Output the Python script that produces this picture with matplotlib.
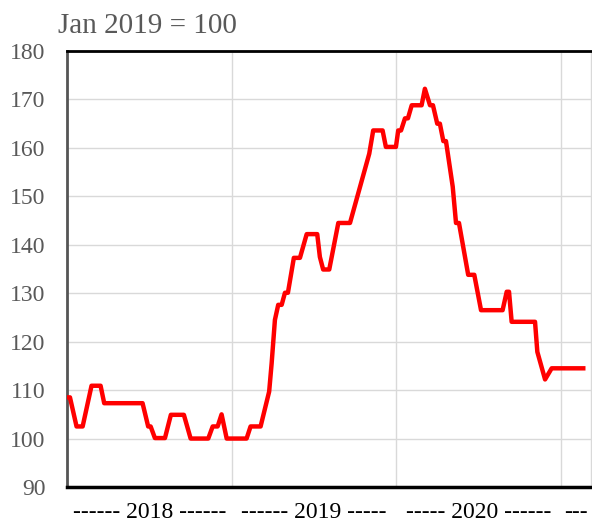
import matplotlib
matplotlib.use("Agg")
import matplotlib.pyplot as plt

# Knots of the index line (decimal year, index value, Jan 2019 = 100)
years = [2018.000, 2018.018, 2018.058, 2018.095, 2018.149, 2018.204, 2018.226, 2018.459,
         2018.493, 2018.508, 2018.534, 2018.595, 2018.631, 2018.710, 2018.751, 2018.858,
         2018.885, 2018.915, 2018.939, 2018.970, 2019.091, 2019.115, 2019.176, 2019.228,
         2019.243, 2019.263, 2019.283, 2019.304, 2019.324, 2019.342, 2019.378, 2019.415,
         2019.456, 2019.520, 2019.536, 2019.556, 2019.593, 2019.648, 2019.719, 2019.836,
         2019.860, 2019.917, 2019.937, 2019.998, 2020.012, 2020.029, 2020.053, 2020.071,
         2020.094, 2020.154, 2020.174, 2020.205, 2020.223, 2020.249, 2020.265, 2020.286,
         2020.302, 2020.343, 2020.363, 2020.381, 2020.437, 2020.474, 2020.515, 2020.646,
         2020.671, 2020.685, 2020.701, 2020.843, 2020.857, 2020.904, 2020.944, 2021.136]
values = [108.5, 108.5, 102.5, 102.5, 110.9, 110.9, 107.3, 107.3,
          102.5, 102.5, 100.1, 100.1, 104.9, 104.9, 100.0, 100.0,
          102.5, 102.5, 105.0, 100.0, 100.0, 102.5, 102.5, 109.7,
          115.5, 124.5, 127.6, 127.6, 130.1, 130.1, 137.3, 137.3,
          142.2, 142.2, 137.5, 134.9, 134.9, 144.5, 144.5, 158.8,
          163.6, 163.6, 160.2, 160.2, 163.6, 163.6, 166.1, 166.1,
          168.8, 168.8, 172.2, 168.8, 168.8, 165.0, 165.0, 161.4,
          161.4, 152.0, 144.5, 144.5, 133.8, 133.8, 126.5, 126.5,
          130.3, 130.3, 124.1, 124.1, 117.9, 112.2, 114.5, 114.5]

y_ticks = [90, 100, 110, 120, 130, 140, 150, 160, 170, 180]
x_label_pos = [2018.5, 2019.5, 2020.5, 2021.09]
x_labels = ["------ 2018 ------", "------ 2019 -----", "----- 2020 ------", "---"]
year_lines = [2019, 2020, 2021]
title = "Jan 2019 = 100"

plt.rcParams['font.family'] = ['Liberation Serif', 'DejaVu Serif']

fig = plt.figure(figsize=(5.92, 5.22), dpi=100)
ax = fig.add_axes([67 / 592, 1 - 487 / 522, (591 - 67) / 592, (487 - 51) / 522])

ax.set_xlim(2018.0, 2021.183)
ax.set_ylim(90, 180)

for yv in y_ticks:
    ax.axhline(yv, color='#d9d9d9', lw=1.0, zorder=1)
for xv in year_lines:
    ax.axvline(xv, color='#d9d9d9', lw=1.0, zorder=1)

ax.plot(years, values, color='#ff0000', lw=3.2, solid_joinstyle='round', zorder=3)

ax.set_yticks(y_ticks)
ax.set_yticklabels([str(v) for v in y_ticks], fontsize=17, color='#595959')
ax.set_xticks(x_label_pos)
ax.set_xticklabels(x_labels, fontsize=17, color='black')
ax.tick_params(axis='both', length=0)
ax.tick_params(axis='y', pad=15.5)
ax.tick_params(axis='x', pad=11)
for lbl in ax.get_yticklabels():
    lbl.set_horizontalalignment('right')

ax.spines['top'].set_color('black')
ax.spines['top'].set_linewidth(2.0)
ax.spines['bottom'].set_color('black')
ax.spines['bottom'].set_linewidth(2.5)
ax.spines['left'].set_color('#555555')
ax.spines['left'].set_linewidth(2.0)
ax.spines['right'].set_color('#d9d9d9')
ax.spines['right'].set_linewidth(1.0)

fig.text(58 / 592, 1 - 26 / 522, title, fontsize=21, color='#595959', va='center', ha='left')

fig.savefig('out.png', dpi=100)
